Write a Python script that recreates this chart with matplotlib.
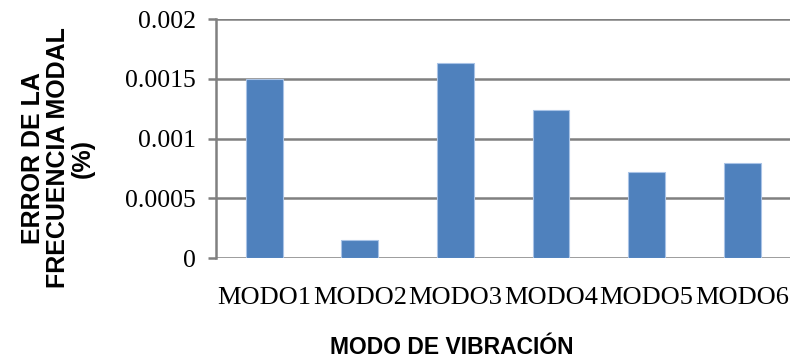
import matplotlib
matplotlib.use("Agg")
import matplotlib.pyplot as plt
import numpy as np

categories = ["MODO1", "MODO2", "MODO3", "MODO4", "MODO5", "MODO6"]
errors = [0.0015, 0.00015, 0.00163, 0.00124, 0.00072, 0.0008]
y_ticks = [0, 0.0005, 0.001, 0.0015, 0.002]
y_tick_labels = ["0", "0.0005", "0.001", "0.0015", "0.002"]

W, H = 804, 364
fig = plt.figure(figsize=(W / 100, H / 100), dpi=100)
ax = fig.add_axes([216.5 / W, 1 - 258.3 / H, (790 - 216.5) / W, (258.3 - 19) / H])

grid_color = "#808080"
x = np.arange(len(categories))
ax.bar(x, errors, width=0.385, color="#4f81bd", edgecolor="#a9c3e6",
       linewidth=0.8, zorder=3)

ax.set_xlim(-0.5, len(categories) - 0.5)
ax.set_ylim(0, 0.002)
ax.set_yticks(y_ticks)
ax.set_yticklabels(y_tick_labels)
ax.set_xticks(x)
ax.set_xticklabels(categories)

ax.yaxis.grid(True, color=grid_color, linewidth=1.8, zorder=1)
ax.set_axisbelow(True)
for side in ("top", "right", "bottom"):
    ax.spines[side].set_visible(False)
ax.spines["left"].set_color(grid_color)
ax.spines["left"].set_linewidth(1.8)

serif = ["Liberation Serif", "DejaVu Serif"]
ax.tick_params(axis="y", length=6, width=1.8, color=grid_color, pad=9,
               labelsize=18.5, labelcolor="#000000")
ax.tick_params(axis="x", length=0, pad=21, labelsize=19, labelcolor="#000000")
for lab in ax.get_xticklabels() + ax.get_yticklabels():
    lab.set_family(serif)

fig.text(451.7 / W, 1 - 347 / H, "MODO DE VIBRACIÓN", ha="center", va="center",
         fontsize=16.5, fontweight="bold", family=["Liberation Sans", "DejaVu Sans"])
fig.text(58 / W, 1 - 158 / H, "ERROR DE LA\nFRECUENCIA MODAL\n(%)",
         rotation=90, ha="center", va="center", multialignment="center",
         fontsize=18, fontweight="bold", linespacing=1.05,
         family=["Liberation Sans", "DejaVu Sans"])

fig.savefig("out.png", dpi=100)
